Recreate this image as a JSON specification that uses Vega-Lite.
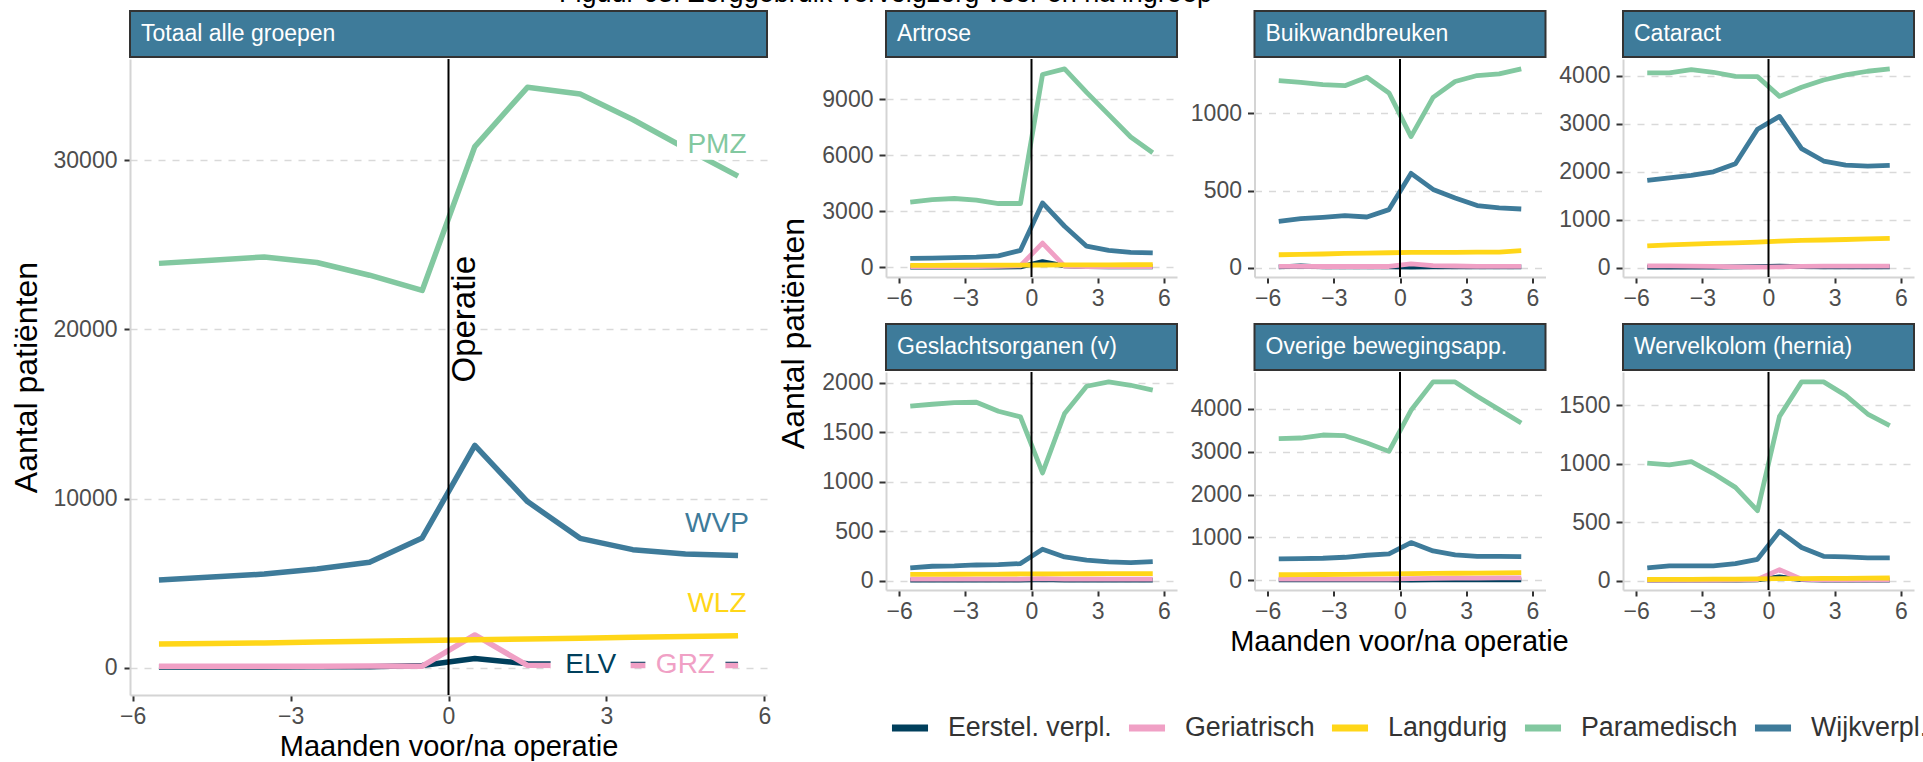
{
"$schema": "https://vega.github.io/schema/vega-lite/v6.json",
"padding": {"left": 10, "top": -20, "right": 0, "bottom": 0},
"title": {"text": "Figuur 63: Zorggebruik vervolgzorg voor en na ingreep", "fontSize": 27, "fontWeight": "normal", "anchor": "start", "dx": 549, "offset": 2, "color": "#000000"},
"datasets": {
"names": [{"code":"ELV","zorg":"Eerstel. verpl."},{"code":"GRZ","zorg":"Geriatrisch"},{"code":"WLZ","zorg":"Langdurig"},{"code":"PMZ","zorg":"Paramedisch"},{"code":"WVP","zorg":"Wijkverpl."}],
"labels": [{"label":"PMZ","zorg":"Paramedisch","maand":5.1,"n":30900},{"label":"WVP","zorg":"Wijkverpl.","maand":5.1,"n":8500},{"label":"WLZ","zorg":"Langdurig","maand":5.1,"n":3780},{"label":"ELV","zorg":"Eerstel. verpl.","maand":2.7,"n":150},{"label":"GRZ","zorg":"Geriatrisch","maand":4.5,"n":150}],
"series": [
{"panel":"Totaal alle groepen","maand":-5.5,"ELV":60,"GRZ":110,"WLZ":1420,"PMZ":23900,"WVP":5200},
{"panel":"Totaal alle groepen","maand":-4.5,"ELV":60,"GRZ":110,"WLZ":1450,"PMZ":24080,"WVP":5370},
{"panel":"Totaal alle groepen","maand":-3.5,"ELV":60,"GRZ":110,"WLZ":1480,"PMZ":24280,"WVP":5550},
{"panel":"Totaal alle groepen","maand":-2.5,"ELV":70,"GRZ":110,"WLZ":1530,"PMZ":23950,"WVP":5850},
{"panel":"Totaal alle groepen","maand":-1.5,"ELV":80,"GRZ":120,"WLZ":1580,"PMZ":23200,"WVP":6250},
{"panel":"Totaal alle groepen","maand":-0.5,"ELV":150,"GRZ":110,"WLZ":1620,"PMZ":22300,"WVP":7680},
{"panel":"Totaal alle groepen","maand":0.5,"ELV":560,"GRZ":1950,"WLZ":1670,"PMZ":30800,"WVP":13150},
{"panel":"Totaal alle groepen","maand":1.5,"ELV":250,"GRZ":160,"WLZ":1710,"PMZ":34300,"WVP":9830},
{"panel":"Totaal alle groepen","maand":2.5,"ELV":220,"GRZ":150,"WLZ":1760,"PMZ":33900,"WVP":7660},
{"panel":"Totaal alle groepen","maand":3.5,"ELV":210,"GRZ":150,"WLZ":1810,"PMZ":32400,"WVP":6990},
{"panel":"Totaal alle groepen","maand":4.5,"ELV":200,"GRZ":150,"WLZ":1860,"PMZ":30700,"WVP":6740},
{"panel":"Totaal alle groepen","maand":5.5,"ELV":200,"GRZ":150,"WLZ":1910,"PMZ":29050,"WVP":6640},
{"panel":"Artrose","maand":-5.5,"ELV":10,"GRZ":40,"WLZ":100,"PMZ":3500,"WVP":480},
{"panel":"Artrose","maand":-4.5,"ELV":10,"GRZ":40,"WLZ":105,"PMZ":3630,"WVP":490},
{"panel":"Artrose","maand":-3.5,"ELV":10,"GRZ":40,"WLZ":110,"PMZ":3690,"WVP":520},
{"panel":"Artrose","maand":-2.5,"ELV":10,"GRZ":40,"WLZ":112,"PMZ":3600,"WVP":540},
{"panel":"Artrose","maand":-1.5,"ELV":10,"GRZ":50,"WLZ":115,"PMZ":3420,"WVP":610},
{"panel":"Artrose","maand":-0.5,"ELV":20,"GRZ":80,"WLZ":118,"PMZ":3420,"WVP":910},
{"panel":"Artrose","maand":0.5,"ELV":300,"GRZ":1300,"WLZ":122,"PMZ":10340,"WVP":3450},
{"panel":"Artrose","maand":1.5,"ELV":80,"GRZ":60,"WLZ":125,"PMZ":10640,"WVP":2200},
{"panel":"Artrose","maand":2.5,"ELV":40,"GRZ":40,"WLZ":128,"PMZ":9380,"WVP":1130},
{"panel":"Artrose","maand":3.5,"ELV":30,"GRZ":40,"WLZ":132,"PMZ":8190,"WVP":910},
{"panel":"Artrose","maand":4.5,"ELV":30,"GRZ":40,"WLZ":136,"PMZ":6990,"WVP":800},
{"panel":"Artrose","maand":5.5,"ELV":30,"GRZ":40,"WLZ":140,"PMZ":6140,"WVP":770},
{"panel":"Buikwandbreuken","maand":-5.5,"ELV":5,"GRZ":8,"WLZ":83,"PMZ":1213,"WVP":300},
{"panel":"Buikwandbreuken","maand":-4.5,"ELV":10,"GRZ":8,"WLZ":85,"PMZ":1202,"WVP":317},
{"panel":"Buikwandbreuken","maand":-3.5,"ELV":5,"GRZ":7,"WLZ":88,"PMZ":1187,"WVP":326},
{"panel":"Buikwandbreuken","maand":-2.5,"ELV":5,"GRZ":7,"WLZ":92,"PMZ":1180,"WVP":337},
{"panel":"Buikwandbreuken","maand":-1.5,"ELV":5,"GRZ":7,"WLZ":94,"PMZ":1235,"WVP":328},
{"panel":"Buikwandbreuken","maand":-0.5,"ELV":5,"GRZ":7,"WLZ":96,"PMZ":1133,"WVP":376},
{"panel":"Buikwandbreuken","maand":0.5,"ELV":3,"GRZ":24,"WLZ":98,"PMZ":850,"WVP":611},
{"panel":"Buikwandbreuken","maand":1.5,"ELV":5,"GRZ":12,"WLZ":98,"PMZ":1104,"WVP":507},
{"panel":"Buikwandbreuken","maand":2.5,"ELV":5,"GRZ":10,"WLZ":98,"PMZ":1207,"WVP":452},
{"panel":"Buikwandbreuken","maand":3.5,"ELV":5,"GRZ":8,"WLZ":100,"PMZ":1246,"WVP":402},
{"panel":"Buikwandbreuken","maand":4.5,"ELV":5,"GRZ":8,"WLZ":100,"PMZ":1257,"WVP":387},
{"panel":"Buikwandbreuken","maand":5.5,"ELV":5,"GRZ":8,"WLZ":110,"PMZ":1289,"WVP":380},
{"panel":"Cataract","maand":-5.5,"ELV":10,"GRZ":35,"WLZ":454,"PMZ":4057,"WVP":1816},
{"panel":"Cataract","maand":-4.5,"ELV":10,"GRZ":35,"WLZ":475,"PMZ":4057,"WVP":1872},
{"panel":"Cataract","maand":-3.5,"ELV":10,"GRZ":30,"WLZ":490,"PMZ":4127,"WVP":1920},
{"panel":"Cataract","maand":-2.5,"ELV":10,"GRZ":25,"WLZ":505,"PMZ":4071,"WVP":1997},
{"panel":"Cataract","maand":-1.5,"ELV":15,"GRZ":15,"WLZ":515,"PMZ":3987,"WVP":2165},
{"panel":"Cataract","maand":-0.5,"ELV":20,"GRZ":10,"WLZ":530,"PMZ":3980,"WVP":2884},
{"panel":"Cataract","maand":0.5,"ELV":30,"GRZ":15,"WLZ":550,"PMZ":3568,"WVP":3150},
{"panel":"Cataract","maand":1.5,"ELV":20,"GRZ":25,"WLZ":565,"PMZ":3757,"WVP":2479},
{"panel":"Cataract","maand":2.5,"ELV":15,"GRZ":30,"WLZ":575,"PMZ":3910,"WVP":2221},
{"panel":"Cataract","maand":3.5,"ELV":15,"GRZ":30,"WLZ":585,"PMZ":4015,"WVP":2137},
{"panel":"Cataract","maand":4.5,"ELV":15,"GRZ":30,"WLZ":597,"PMZ":4092,"WVP":2116},
{"panel":"Cataract","maand":5.5,"ELV":15,"GRZ":30,"WLZ":608,"PMZ":4141,"WVP":2130},
{"panel":"Geslachtsorganen (v)","maand":-5.5,"ELV":5,"GRZ":15,"WLZ":62,"PMZ":1764,"WVP":128},
{"panel":"Geslachtsorganen (v)","maand":-4.5,"ELV":5,"GRZ":15,"WLZ":63,"PMZ":1784,"WVP":145},
{"panel":"Geslachtsorganen (v)","maand":-3.5,"ELV":5,"GRZ":15,"WLZ":64,"PMZ":1801,"WVP":148},
{"panel":"Geslachtsorganen (v)","maand":-2.5,"ELV":5,"GRZ":15,"WLZ":65,"PMZ":1804,"WVP":158},
{"panel":"Geslachtsorganen (v)","maand":-1.5,"ELV":5,"GRZ":15,"WLZ":66,"PMZ":1713,"WVP":162},
{"panel":"Geslachtsorganen (v)","maand":-0.5,"ELV":5,"GRZ":15,"WLZ":67,"PMZ":1656,"WVP":172},
{"panel":"Geslachtsorganen (v)","maand":0.5,"ELV":10,"GRZ":20,"WLZ":68,"PMZ":1089,"WVP":317},
{"panel":"Geslachtsorganen (v)","maand":1.5,"ELV":5,"GRZ":15,"WLZ":68,"PMZ":1690,"WVP":239},
{"panel":"Geslachtsorganen (v)","maand":2.5,"ELV":5,"GRZ":15,"WLZ":69,"PMZ":1966,"WVP":206},
{"panel":"Geslachtsorganen (v)","maand":3.5,"ELV":5,"GRZ":15,"WLZ":70,"PMZ":2010,"WVP":189},
{"panel":"Geslachtsorganen (v)","maand":4.5,"ELV":5,"GRZ":15,"WLZ":70,"PMZ":1976,"WVP":182},
{"panel":"Geslachtsorganen (v)","maand":5.5,"ELV":5,"GRZ":15,"WLZ":70,"PMZ":1926,"WVP":192},
{"panel":"Overige bewegingsapp.","maand":-5.5,"ELV":10,"GRZ":30,"WLZ":130,"PMZ":3306,"WVP":500},
{"panel":"Overige bewegingsapp.","maand":-4.5,"ELV":10,"GRZ":30,"WLZ":133,"PMZ":3322,"WVP":507},
{"panel":"Overige bewegingsapp.","maand":-3.5,"ELV":10,"GRZ":30,"WLZ":136,"PMZ":3392,"WVP":515},
{"panel":"Overige bewegingsapp.","maand":-2.5,"ELV":10,"GRZ":30,"WLZ":140,"PMZ":3376,"WVP":538},
{"panel":"Overige bewegingsapp.","maand":-1.5,"ELV":10,"GRZ":30,"WLZ":145,"PMZ":3205,"WVP":585},
{"panel":"Overige bewegingsapp.","maand":-0.5,"ELV":10,"GRZ":30,"WLZ":150,"PMZ":3010,"WVP":616},
{"panel":"Overige bewegingsapp.","maand":0.5,"ELV":5,"GRZ":40,"WLZ":155,"PMZ":3969,"WVP":881},
{"panel":"Overige bewegingsapp.","maand":1.5,"ELV":10,"GRZ":45,"WLZ":160,"PMZ":4632,"WVP":686},
{"panel":"Overige bewegingsapp.","maand":2.5,"ELV":10,"GRZ":50,"WLZ":165,"PMZ":4632,"WVP":593},
{"panel":"Overige bewegingsapp.","maand":3.5,"ELV":10,"GRZ":50,"WLZ":170,"PMZ":4296,"WVP":561},
{"panel":"Overige bewegingsapp.","maand":4.5,"ELV":10,"GRZ":55,"WLZ":175,"PMZ":3984,"WVP":561},
{"panel":"Overige bewegingsapp.","maand":5.5,"ELV":10,"GRZ":55,"WLZ":178,"PMZ":3673,"WVP":554},
{"panel":"Wervelkolom (hernia)","maand":-5.5,"ELV":5,"GRZ":5,"WLZ":10,"PMZ":1006,"WVP":109},
{"panel":"Wervelkolom (hernia)","maand":-4.5,"ELV":5,"GRZ":5,"WLZ":11,"PMZ":991,"WVP":126},
{"panel":"Wervelkolom (hernia)","maand":-3.5,"ELV":5,"GRZ":5,"WLZ":12,"PMZ":1020,"WVP":126},
{"panel":"Wervelkolom (hernia)","maand":-2.5,"ELV":5,"GRZ":5,"WLZ":13,"PMZ":917,"WVP":126},
{"panel":"Wervelkolom (hernia)","maand":-1.5,"ELV":5,"GRZ":8,"WLZ":14,"PMZ":799,"WVP":146},
{"panel":"Wervelkolom (hernia)","maand":-0.5,"ELV":8,"GRZ":10,"WLZ":15,"PMZ":599,"WVP":183},
{"panel":"Wervelkolom (hernia)","maand":0.5,"ELV":32,"GRZ":95,"WLZ":17,"PMZ":1407,"WVP":424},
{"panel":"Wervelkolom (hernia)","maand":1.5,"ELV":10,"GRZ":12,"WLZ":18,"PMZ":1702,"WVP":284},
{"panel":"Wervelkolom (hernia)","maand":2.5,"ELV":5,"GRZ":8,"WLZ":19,"PMZ":1702,"WVP":209},
{"panel":"Wervelkolom (hernia)","maand":3.5,"ELV":5,"GRZ":8,"WLZ":20,"PMZ":1587,"WVP":203},
{"panel":"Wervelkolom (hernia)","maand":4.5,"ELV":5,"GRZ":8,"WLZ":22,"PMZ":1427,"WVP":195},
{"panel":"Wervelkolom (hernia)","maand":5.5,"ELV":5,"GRZ":8,"WLZ":23,"PMZ":1327,"WVP":195}
]
},
"spacing": 7,
"hconcat": [
{"spacing": 0, "vconcat": [
 {"width": 637, "height": 46, "data": {"values": [{"panel": "Totaal alle groepen"}]}, "view": {"fill": "#3E7B9A", "stroke": "#333333", "strokeWidth": 2},
  "mark": {"type": "text", "align": "left", "baseline": "middle", "color": "white", "fontSize": 23, "dx": 11},
  "encoding": {"text": {"field": "panel"}, "x": {"datum": 0, "type": "quantitative", "scale": {"domain": [0, 1]}, "axis": null}}},
 {"width": 637, "height": 636, "layer": [
  {"data": {"name": "series"}, "transform": [{"filter": {"field": "panel", "equal": "Totaal alle groepen"}}, {"fold": ["ELV","GRZ","WLZ","PMZ","WVP"], "as": ["code","n"]}, {"lookup": "code", "from": {"data": {"name": "names"}, "key": "code", "fields": ["zorg"]}}],
   "mark": {"type": "line", "strokeWidth": 5.5, "strokeJoin": "round"},
   "encoding": {
    "x": {"field": "maand", "type": "quantitative", "scale": {"domain": [-6.05, 6.05], "nice": false, "zero": false}, "axis": {"values": [-6,-3,0,3,6], "title": "Maanden voor/na operatie"}},
    "y": {"field": "n", "type": "quantitative", "scale": {"zero": false, "nice": false, "domain": [-1595, 35972]}, "axis": {"values": [0,10000,20000,30000], "format": "d", "title": "Aantal patiënten", "titleFontSize": 32, "labelPadding": 7}},
    "color": {"field": "zorg", "type": "nominal", "scale": {"domain": ["Eerstel. verpl.","Geriatrisch","Langdurig","Paramedisch","Wijkverpl."], "range": ["#003F5C","#F0A0C5","#FFD618","#82C8A0","#3E7B9A"]},
     "legend": {"title": null, "orient": "none", "legendX": 758, "legendY": 695, "direction": "horizontal"}}}},
  {"data": {"values": [{}]}, "mark": {"type": "rule", "color": "black", "strokeWidth": 2}, "encoding": {"x": {"datum": 0}}},
  {"data": {"values": [{"tekst": "Operatie", "maand": 0, "n": 20600}]}, "mark": {"type": "text", "angle": 270, "align": "center", "baseline": "top", "fontSize": 33, "color": "black"},
   "encoding": {"x": {"field": "maand", "type": "quantitative"}, "y": {"field": "n", "type": "quantitative"}, "text": {"field": "tekst"}}},
  {"data": {"name": "labels"}, "mark": {"type": "point", "shape": "M-1,-0.375H1V0.375H-1Z", "filled": true, "fill": "white", "strokeWidth": 0, "opacity": 1, "size": 6400},
   "encoding": {"x": {"field": "maand", "type": "quantitative"}, "y": {"field": "n", "type": "quantitative"}}},
  {"data": {"name": "labels"}, "mark": {"type": "text", "fontSize": 28, "align": "center", "baseline": "middle"},
   "encoding": {"x": {"field": "maand", "type": "quantitative"}, "y": {"field": "n", "type": "quantitative"}, "text": {"field": "label"},
    "fill": {"field": "zorg", "type": "nominal", "scale": {"domain": ["Eerstel. verpl.","Geriatrisch","Langdurig","Paramedisch","Wijkverpl."], "range": ["#003F5C","#F0A0C5","#FFD618","#82C8A0","#3E7B9A"]}, "legend": null}}}
 ]}
]},
{"title": {"text": "Aantal patiënten", "orient": "left", "fontSize": 32, "fontWeight": "normal", "offset": 10.7, "anchor": "middle", "color": "#000000"},
 "vconcat": [
 {"title": {"text": "Maanden voor/na operatie", "orient": "bottom", "fontSize": 29, "fontWeight": "normal", "offset": 5, "anchor": "middle", "dx": 31, "color": "#000000"},
  "spacing": 13,
  "vconcat": [
  {"spacing": 11.5, "hconcat": [
   {"spacing": 0, "vconcat": [
    {"width": 291, "height": 46, "data": {"values": [{"panel": "Artrose"}]}, "view": {"fill": "#3E7B9A", "stroke": "#333333", "strokeWidth": 2}, "mark": {"type": "text", "align": "left", "baseline": "middle", "color": "white", "fontSize": 23, "dx": 11}, "encoding": {"text": {"field": "panel"}, "x": {"datum": 0, "type": "quantitative", "scale": {"domain": [0, 1]}, "axis": null}}},
    {"width": 291, "height": 218, "layer": [
     {"data": {"name": "series"}, "transform": [{"filter": {"field": "panel", "equal": "Artrose"}}, {"fold": ["ELV","GRZ","WLZ","PMZ","WVP"], "as": ["code","n"]}, {"lookup": "code", "from": {"data": {"name": "names"}, "key": "code", "fields": ["zorg"]}}],
      "mark": {"type": "line", "strokeWidth": 4.8, "strokeJoin": "round"},
      "encoding": {"x": {"field": "maand", "type": "quantitative", "scale": {"domain": [-6.6, 6.6], "nice": false, "zero": false}, "axis": {"values": [-6,-3,0,3,6], "title": null}},
       "y": {"field": "n", "type": "quantitative", "scale": {"zero": false, "nice": false, "padding": 9.9}, "axis": {"values": [0,3000,6000,9000], "format": "d", "title": null, "tickSize": 7, "labelPadding": 6}},
       "color": {"field": "zorg", "type": "nominal", "scale": {"domain": ["Eerstel. verpl.","Geriatrisch","Langdurig","Paramedisch","Wijkverpl."], "range": ["#003F5C","#F0A0C5","#FFD618","#82C8A0","#3E7B9A"]}, "title": null}}},
     {"data": {"values": [{}]}, "mark": {"type": "rule", "color": "black", "strokeWidth": 2}, "encoding": {"x": {"datum": 0}}}
    ]}
   ]},
   {"spacing": 0, "vconcat": [
    {"width": 291, "height": 46, "data": {"values": [{"panel": "Buikwandbreuken"}]}, "view": {"fill": "#3E7B9A", "stroke": "#333333", "strokeWidth": 2}, "mark": {"type": "text", "align": "left", "baseline": "middle", "color": "white", "fontSize": 23, "dx": 11}, "encoding": {"text": {"field": "panel"}, "x": {"datum": 0, "type": "quantitative", "scale": {"domain": [0, 1]}, "axis": null}}},
    {"width": 291, "height": 218, "layer": [
     {"data": {"name": "series"}, "transform": [{"filter": {"field": "panel", "equal": "Buikwandbreuken"}}, {"fold": ["ELV","GRZ","WLZ","PMZ","WVP"], "as": ["code","n"]}, {"lookup": "code", "from": {"data": {"name": "names"}, "key": "code", "fields": ["zorg"]}}],
      "mark": {"type": "line", "strokeWidth": 4.8, "strokeJoin": "round"},
      "encoding": {"x": {"field": "maand", "type": "quantitative", "scale": {"domain": [-6.6, 6.6], "nice": false, "zero": false}, "axis": {"values": [-6,-3,0,3,6], "title": null}},
       "y": {"field": "n", "type": "quantitative", "scale": {"zero": false, "nice": false, "padding": 9.9}, "axis": {"values": [0,500,1000], "format": "d", "title": null, "tickSize": 7, "labelPadding": 6}},
       "color": {"field": "zorg", "type": "nominal", "scale": {"domain": ["Eerstel. verpl.","Geriatrisch","Langdurig","Paramedisch","Wijkverpl."], "range": ["#003F5C","#F0A0C5","#FFD618","#82C8A0","#3E7B9A"]}, "title": null}}},
     {"data": {"values": [{}]}, "mark": {"type": "rule", "color": "black", "strokeWidth": 2}, "encoding": {"x": {"datum": 0}}}
    ]}
   ]},
   {"spacing": 0, "vconcat": [
    {"width": 291, "height": 46, "data": {"values": [{"panel": "Cataract"}]}, "view": {"fill": "#3E7B9A", "stroke": "#333333", "strokeWidth": 2}, "mark": {"type": "text", "align": "left", "baseline": "middle", "color": "white", "fontSize": 23, "dx": 11}, "encoding": {"text": {"field": "panel"}, "x": {"datum": 0, "type": "quantitative", "scale": {"domain": [0, 1]}, "axis": null}}},
    {"width": 291, "height": 218, "layer": [
     {"data": {"name": "series"}, "transform": [{"filter": {"field": "panel", "equal": "Cataract"}}, {"fold": ["ELV","GRZ","WLZ","PMZ","WVP"], "as": ["code","n"]}, {"lookup": "code", "from": {"data": {"name": "names"}, "key": "code", "fields": ["zorg"]}}],
      "mark": {"type": "line", "strokeWidth": 4.8, "strokeJoin": "round"},
      "encoding": {"x": {"field": "maand", "type": "quantitative", "scale": {"domain": [-6.6, 6.6], "nice": false, "zero": false}, "axis": {"values": [-6,-3,0,3,6], "title": null}},
       "y": {"field": "n", "type": "quantitative", "scale": {"zero": false, "nice": false, "padding": 9.9}, "axis": {"values": [0,1000,2000,3000,4000], "format": "d", "title": null, "tickSize": 7, "labelPadding": 6}},
       "color": {"field": "zorg", "type": "nominal", "scale": {"domain": ["Eerstel. verpl.","Geriatrisch","Langdurig","Paramedisch","Wijkverpl."], "range": ["#003F5C","#F0A0C5","#FFD618","#82C8A0","#3E7B9A"]}, "title": null}}},
     {"data": {"values": [{}]}, "mark": {"type": "rule", "color": "black", "strokeWidth": 2}, "encoding": {"x": {"datum": 0}}}
    ]}
   ]}
  ]},
  {"spacing": 11.5, "hconcat": [
   {"spacing": 0, "vconcat": [
    {"width": 291, "height": 46, "data": {"values": [{"panel": "Geslachtsorganen (v)"}]}, "view": {"fill": "#3E7B9A", "stroke": "#333333", "strokeWidth": 2}, "mark": {"type": "text", "align": "left", "baseline": "middle", "color": "white", "fontSize": 23, "dx": 11}, "encoding": {"text": {"field": "panel"}, "x": {"datum": 0, "type": "quantitative", "scale": {"domain": [0, 1]}, "axis": null}}},
    {"width": 291, "height": 218, "layer": [
     {"data": {"name": "series"}, "transform": [{"filter": {"field": "panel", "equal": "Geslachtsorganen (v)"}}, {"fold": ["ELV","GRZ","WLZ","PMZ","WVP"], "as": ["code","n"]}, {"lookup": "code", "from": {"data": {"name": "names"}, "key": "code", "fields": ["zorg"]}}],
      "mark": {"type": "line", "strokeWidth": 4.8, "strokeJoin": "round"},
      "encoding": {"x": {"field": "maand", "type": "quantitative", "scale": {"domain": [-6.6, 6.6], "nice": false, "zero": false}, "axis": {"values": [-6,-3,0,3,6], "title": null}},
       "y": {"field": "n", "type": "quantitative", "scale": {"zero": false, "nice": false, "padding": 9.9}, "axis": {"values": [0,500,1000,1500,2000], "format": "d", "title": null, "tickSize": 7, "labelPadding": 6}},
       "color": {"field": "zorg", "type": "nominal", "scale": {"domain": ["Eerstel. verpl.","Geriatrisch","Langdurig","Paramedisch","Wijkverpl."], "range": ["#003F5C","#F0A0C5","#FFD618","#82C8A0","#3E7B9A"]}, "title": null}}},
     {"data": {"values": [{}]}, "mark": {"type": "rule", "color": "black", "strokeWidth": 2}, "encoding": {"x": {"datum": 0}}}
    ]}
   ]},
   {"spacing": 0, "vconcat": [
    {"width": 291, "height": 46, "data": {"values": [{"panel": "Overige bewegingsapp."}]}, "view": {"fill": "#3E7B9A", "stroke": "#333333", "strokeWidth": 2}, "mark": {"type": "text", "align": "left", "baseline": "middle", "color": "white", "fontSize": 23, "dx": 11}, "encoding": {"text": {"field": "panel"}, "x": {"datum": 0, "type": "quantitative", "scale": {"domain": [0, 1]}, "axis": null}}},
    {"width": 291, "height": 218, "layer": [
     {"data": {"name": "series"}, "transform": [{"filter": {"field": "panel", "equal": "Overige bewegingsapp."}}, {"fold": ["ELV","GRZ","WLZ","PMZ","WVP"], "as": ["code","n"]}, {"lookup": "code", "from": {"data": {"name": "names"}, "key": "code", "fields": ["zorg"]}}],
      "mark": {"type": "line", "strokeWidth": 4.8, "strokeJoin": "round"},
      "encoding": {"x": {"field": "maand", "type": "quantitative", "scale": {"domain": [-6.6, 6.6], "nice": false, "zero": false}, "axis": {"values": [-6,-3,0,3,6], "title": null}},
       "y": {"field": "n", "type": "quantitative", "scale": {"zero": false, "nice": false, "padding": 9.9}, "axis": {"values": [0,1000,2000,3000,4000], "format": "d", "title": null, "tickSize": 7, "labelPadding": 6}},
       "color": {"field": "zorg", "type": "nominal", "scale": {"domain": ["Eerstel. verpl.","Geriatrisch","Langdurig","Paramedisch","Wijkverpl."], "range": ["#003F5C","#F0A0C5","#FFD618","#82C8A0","#3E7B9A"]}, "title": null}}},
     {"data": {"values": [{}]}, "mark": {"type": "rule", "color": "black", "strokeWidth": 2}, "encoding": {"x": {"datum": 0}}}
    ]}
   ]},
   {"spacing": 0, "vconcat": [
    {"width": 291, "height": 46, "data": {"values": [{"panel": "Wervelkolom (hernia)"}]}, "view": {"fill": "#3E7B9A", "stroke": "#333333", "strokeWidth": 2}, "mark": {"type": "text", "align": "left", "baseline": "middle", "color": "white", "fontSize": 23, "dx": 11}, "encoding": {"text": {"field": "panel"}, "x": {"datum": 0, "type": "quantitative", "scale": {"domain": [0, 1]}, "axis": null}}},
    {"width": 291, "height": 218, "layer": [
     {"data": {"name": "series"}, "transform": [{"filter": {"field": "panel", "equal": "Wervelkolom (hernia)"}}, {"fold": ["ELV","GRZ","WLZ","PMZ","WVP"], "as": ["code","n"]}, {"lookup": "code", "from": {"data": {"name": "names"}, "key": "code", "fields": ["zorg"]}}],
      "mark": {"type": "line", "strokeWidth": 4.8, "strokeJoin": "round"},
      "encoding": {"x": {"field": "maand", "type": "quantitative", "scale": {"domain": [-6.6, 6.6], "nice": false, "zero": false}, "axis": {"values": [-6,-3,0,3,6], "title": null}},
       "y": {"field": "n", "type": "quantitative", "scale": {"zero": false, "nice": false, "padding": 9.9}, "axis": {"values": [0,500,1000,1500], "format": "d", "title": null, "tickSize": 7, "labelPadding": 6}},
       "color": {"field": "zorg", "type": "nominal", "scale": {"domain": ["Eerstel. verpl.","Geriatrisch","Langdurig","Paramedisch","Wijkverpl."], "range": ["#003F5C","#F0A0C5","#FFD618","#82C8A0","#3E7B9A"]}, "title": null}}},
     {"data": {"values": [{}]}, "mark": {"type": "rule", "color": "black", "strokeWidth": 2}, "encoding": {"x": {"datum": 0}}}
    ]}
   ]}
  ]}
 ]}
]}
],
"config": {
 "font": "Liberation Sans",
 "view": {"stroke": null},
 "axis": {"labelFontSize": 23, "labelColor": "#4D4D4D", "labelFont": "Liberation Sans", "tickColor": "#333333", "tickWidth": 2, "tickSize": 6, "labelPadding": 4, "domainColor": "#D4D4D4", "domainWidth": 2, "titleFontSize": 29, "titleFontWeight": "normal", "titleColor": "#000000", "titleFont": "Liberation Sans", "gridColor": "#D9D9D9", "gridDash": [7, 7], "gridWidth": 1.5},
 "axisX": {"grid": false, "titlePadding": 4},
 "axisY": {"grid": true, "titlePadding": 10},
 "legend": {"symbolType": "stroke", "symbolStrokeWidth": 7, "symbolSize": 1300, "labelFontSize": 26.8, "labelFont": "Liberation Sans", "labelColor": "#333333", "labelOffset": 16, "columnPadding": 2, "labelLimit": 400, "gridAlign": "none"}
}
}
